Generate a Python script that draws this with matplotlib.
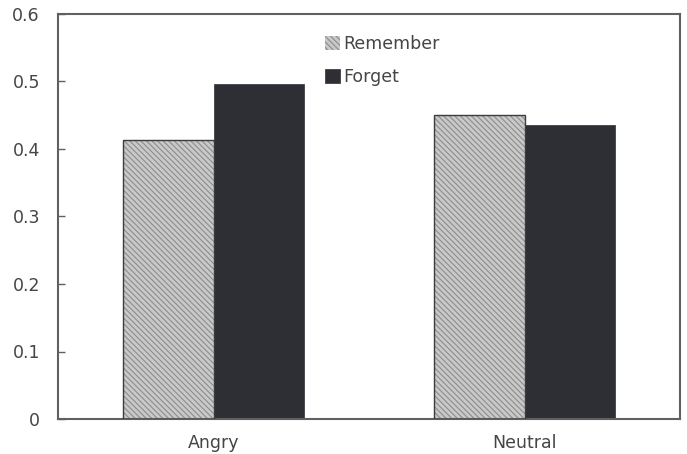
import numpy as np
import matplotlib.pyplot as plt

# Data
categories = ['Angry', 'Neutral']
remember = [0.413, 0.451]
forget = [0.497, 0.436]
y_ticks = [0, 0.1, 0.2, 0.3, 0.4, 0.5, 0.6]

plt.rcParams['font.family'] = ['DejaVu Sans']
plt.rcParams['hatch.linewidth'] = 0.8

fig = plt.figure(figsize=(6.87, 4.54), dpi=100)
ax = fig.add_axes([58 / 687, 35 / 454, 622 / 687, 405 / 454])

x = np.arange(len(categories))
w = 0.29

# hatched grey bars, then outline on top
ax.bar(x - w / 2, remember, w, color='#c9c9c9', edgecolor='#8c8c8c',
       hatch='\\\\\\\\\\\\', linewidth=0, label='Remember', zorder=2)
ax.bar(x - w / 2, remember, w, fill=False, edgecolor='#3c3c3c',
       linewidth=1.0, zorder=3)
ax.bar(x + w / 2, forget, w, color='#2e2f35', edgecolor='#2e2f35',
       linewidth=0.5, label='Forget', zorder=2)

ax.set_xlim(-0.5, 1.5)
ax.set_ylim(0, 0.6)
ax.set_yticks(y_ticks)
ax.set_yticklabels(['0' if v == 0 else f'{v:.1f}' for v in y_ticks])
ax.set_xticks(x)
ax.set_xticklabels(categories)

for s in ax.spines.values():
    s.set_color('#606060')
    s.set_linewidth(1.5)

ax.tick_params(axis='y', direction='in', length=5, width=1, color='#606060',
               labelsize=12.5, labelcolor='#454545', pad=13)
ax.tick_params(axis='x', length=0, labelsize=12.5, labelcolor='#454545', pad=11)

ax.legend(loc='upper left', bbox_to_anchor=(260 / 622, 0.965), frameon=False,
          fontsize=12.5, labelcolor='#454545', handlelength=0.85,
          handleheight=0.85, handletextpad=0.2, labelspacing=0.85,
          borderaxespad=0)

fig.savefig('out.png', dpi=100)
